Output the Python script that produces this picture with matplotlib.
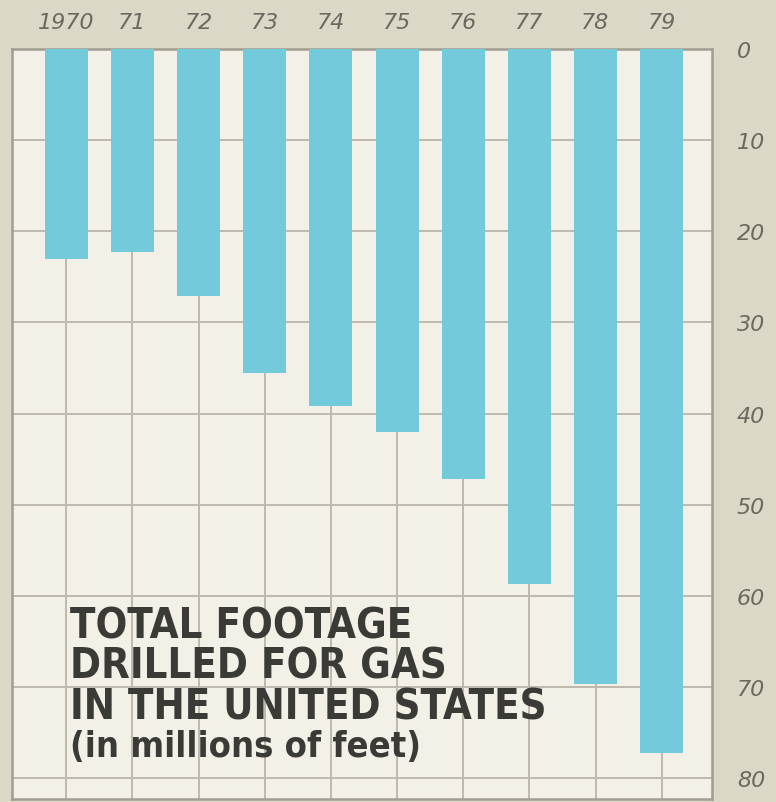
import matplotlib.pyplot as plt

# footage drilled for gas, millions of feet
years = ["1970", "71", "72", "73", "74", "75", "76", "77", "78", "79"]
footage = [23.0, 22.3, 27.1, 35.5, 39.2, 42.0, 47.2, 58.7, 69.7, 77.2]
y_ticks = [0, 10, 20, 30, 40, 50, 60, 70, 80]
title_lines = ["TOTAL FOOTAGE", "DRILLED FOR GAS", "IN THE UNITED STATES"]
subtitle = "(in millions of feet)"


def main():
    """draw the hanging bar chart"""
    fig = plt.figure(figsize=(7.76, 8.03), dpi=100, facecolor="#dcd8c8")
    ax = fig.add_axes([0.0155, 0.0037, 0.902, 0.934])
    ax.set_facecolor("#f3f0e7")

    x = list(range(len(years)))
    ax.bar(x, footage, width=0.65, color="#72cadb", zorder=3)

    # axis runs downward from 0 at the top
    ax.set_xlim(-0.82, 9.76)
    ax.set_ylim(82.3, 0)

    ax.set_xticks(x)
    ax.set_xticklabels(years)
    ax.xaxis.tick_top()
    ax.set_yticks(y_ticks)
    ax.yaxis.tick_right()
    ax.tick_params(length=0, labelsize=16, labelcolor="#6b695f")
    for lab in ax.get_xticklabels() + ax.get_yticklabels():
        lab.set_fontstyle("italic")
    ax.tick_params(axis="x", pad=12)
    ax.tick_params(axis="y", pad=18)

    ax.grid(True, color="#bdb9ad", linewidth=1.4, zorder=1)
    for side in ax.spines.values():
        side.set_color("#a19d91")
        side.set_linewidth(1.8)

    # caption block in the lower left
    font = dict(fontweight="bold", fontstretch="condensed",
                family=["DejaVu Sans", "Liberation Sans"],
                color="#3a3a36", va="center", ha="left", zorder=5)
    for i, line in enumerate(title_lines):
        ax.text(0.083, 0.231 - i * 0.0535, line, transform=ax.transAxes,
                fontsize=30, **font)
    ax.text(0.083, 0.231 - 3 * 0.0535, subtitle, transform=ax.transAxes,
            fontsize=26, **font)

    plt.savefig("out.png", dpi=100, facecolor=fig.get_facecolor())


if __name__ == "__main__":
    main()
